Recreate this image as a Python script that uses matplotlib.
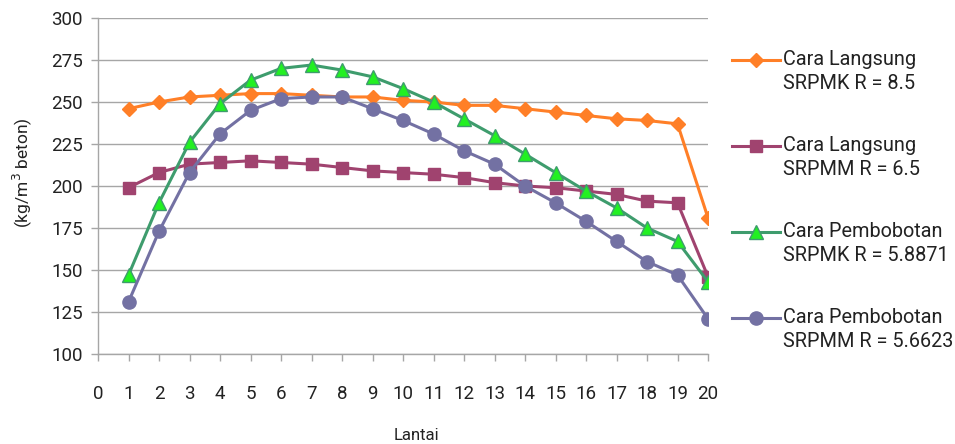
import matplotlib
matplotlib.use('Agg')
import matplotlib.pyplot as plt
from matplotlib.transforms import Affine2D

plt.rcParams['font.family'] = ['Roboto', 'DejaVu Sans']

# Data
lantai = list(range(1, 21))
langsung_srpmk = [246, 250, 253, 254, 255, 255, 254, 253, 253, 251,
                  250, 248, 248, 246, 244, 242, 240, 239, 237, 181]
langsung_srpmm = [199, 208, 213, 214, 215, 214, 213, 211, 209, 208,
                  207, 205, 202, 200, 199, 197, 195, 191, 190, 146]
bobot_srpmk = [147, 190, 226, 249, 263, 270, 272, 269, 265, 258,
               250, 240, 230, 219, 208, 197, 187, 175, 167, 143]
bobot_srpmm = [131, 173, 208, 231, 245, 252, 253, 253, 246, 239,
               231, 221, 213, 200, 190, 179, 167, 155, 147, 121]

labels = ['Cara Langsung\nSRPMK R = 8.5',
          'Cara Langsung\nSRPMM R = 6.5',
          'Cara Pembobotan\nSRPMK R = 5.8871',
          'Cara Pembobotan\nSRPMM R = 5.6623']
x_ticks = list(range(0, 21))
y_ticks = list(range(100, 301, 25))

fig = plt.figure(figsize=(9.55, 4.44), dpi=100)
ax = fig.add_axes([98 / 955, 1 - 354 / 444, 610 / 955, 336 / 444])

grid_c = '#A6A6A6'
ax.plot(lantai, langsung_srpmk, color='#FF7F27', lw=2.2, marker='D', ms=7,
        mfc='#FF7F27', mec='#FF7F27', label=labels[0], zorder=3)
ax.plot(lantai, langsung_srpmm, color='#A0436F', lw=2.2, marker='s', ms=8.5,
        mfc='#A0436F', mec='#A0436F', label=labels[1], zorder=3)
ax.plot(lantai, bobot_srpmk, color='#3E9C6D', lw=2.2, marker='^', ms=10,
        mfc='#22F022', mec='#3E9C6D', mew=1, label=labels[2], zorder=3)
ax.plot(lantai, bobot_srpmm, color='#7371A3', lw=2.2, marker='o', ms=9.5,
        mfc='#7371A3', mec='#7371A3', label=labels[3], zorder=3)

ax.set_xlim(0, 20)
ax.set_ylim(100, 300)
ax.set_xticks(x_ticks)
ax.set_yticks(y_ticks)
ax.yaxis.grid(True, color=grid_c, lw=1)
ax.set_axisbelow(True)
for s in ['top', 'right']:
    ax.spines[s].set_visible(False)
for s in ['left', 'bottom']:
    ax.spines[s].set_color(grid_c)
    ax.spines[s].set_linewidth(1)
ax.tick_params(axis='both', colors=grid_c, length=5, width=1, labelsize=13.5,
               labelcolor='#222222')
ax.tick_params(axis='x', pad=17)
ax.tick_params(axis='y', pad=6)

fig.text(22 / 955, 1 - 173 / 444, '(kg/m$^3$ beton)', rotation=90,
         ha='center', va='center', fontsize=12.5, color='#222222')
fig.text(416 / 955, 1 - 435 / 444, 'Lantai', ha='center', va='center',
         fontsize=12, color='#222222')

leg = fig.legend(loc='upper left', bbox_to_anchor=(732 / 955, 1 - 50 / 444),
                 frameon=False, fontsize=14.3, handlelength=2.4,
                 handletextpad=0.15, labelspacing=2.15, borderpad=0,
                 borderaxespad=0, labelcolor='#222222')
for t in leg.get_texts():
    t.set_linespacing(1.35)
# move each legend handle up to the first text line
for ln in leg.get_lines():
    ln.set_transform(ln.get_transform() + Affine2D().translate(0, 12.5))

fig.savefig('out.png', dpi=100)
